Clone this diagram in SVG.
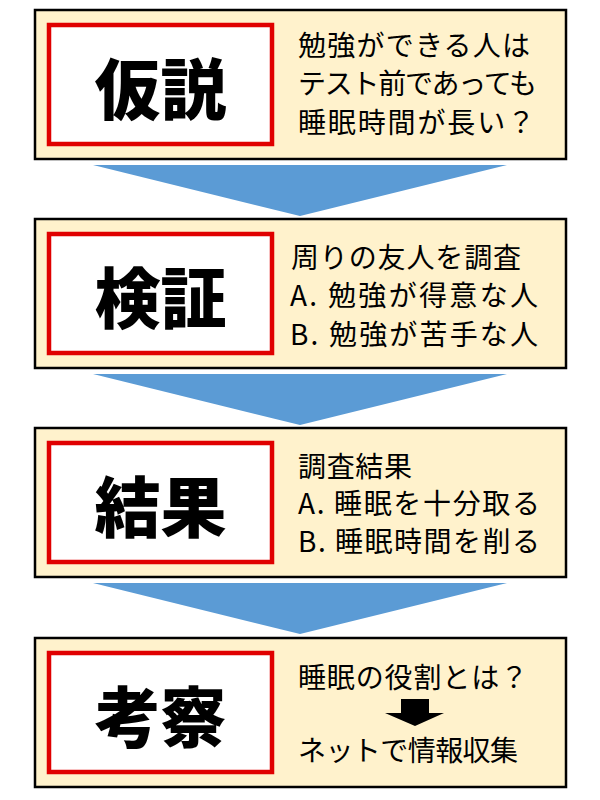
<svg xmlns="http://www.w3.org/2000/svg" width="600" height="800" viewBox="0 0 600 800">
<defs>
<style>
.box{fill:#FFF2CC;stroke:#000;stroke-width:2.5}
.red{fill:#fff;stroke:#E00000;stroke-width:4.5}
.big{font-family:"Noto Sans CJK JP","Noto Sans CJK SC",sans-serif;font-weight:900;font-size:66px;fill:#000;text-anchor:middle}
.txt{font-family:"Noto Sans CJK JP","Noto Sans CJK SC",sans-serif;font-size:28px;fill:#000}
.flow{fill:#5B9BD5}
</style>
</defs>
<rect width="600" height="800" fill="#fff"/>
<g id="connectors">
<polygon class="flow" points="93,165 507,165 300,216"/>
<polygon class="flow" points="93,374 507,374 300,425"/>
<polygon class="flow" points="93,583 507,583 300,634"/>
</g>
<g id="node-hypothesis">
<rect class="box" x="35" y="10" width="531" height="149"/>
<rect class="red" x="49" y="25" width="223" height="119"/>
<text class="big" x="160.5" y="114">仮説</text>
<text class="txt" x="298" y="55.5" textLength="232" lengthAdjust="spacing">勉強ができる人は</text>
<text class="txt" x="298" y="94" textLength="239" lengthAdjust="spacing">テスト前であっても</text>
<text class="txt" x="298" y="132.5" textLength="237" lengthAdjust="spacing">睡眠時間が長い？</text>
</g>
<g id="node-verification">
<rect class="box" x="35" y="219" width="531" height="149"/>
<rect class="red" x="49" y="234" width="223" height="119"/>
<text class="big" x="160.5" y="323">検証</text>
<text class="txt" x="291" y="268" textLength="230" lengthAdjust="spacing">周りの友人を調査</text>
<text class="txt" x="290" y="306" textLength="248" lengthAdjust="spacing">A. 勉強が得意な人</text>
<text class="txt" x="290" y="345" textLength="248" lengthAdjust="spacing">B. 勉強が苦手な人</text>
</g>
<g id="node-result">
<rect class="box" x="35" y="428" width="531" height="149"/>
<rect class="red" x="49" y="443" width="223" height="119"/>
<text class="big" x="160.5" y="532">結果</text>
<text class="txt" x="298" y="476.5" textLength="114" lengthAdjust="spacing">調査結果</text>
<text class="txt" x="298" y="513.5" textLength="242" lengthAdjust="spacing">A. 睡眠を十分取る</text>
<text class="txt" x="298" y="551.5" textLength="242" lengthAdjust="spacing">B. 睡眠時間を削る</text>
</g>
<g id="node-discussion">
<rect class="box" x="35" y="638" width="531" height="149"/>
<rect class="red" x="49" y="653" width="223" height="119"/>
<text class="big" x="160.5" y="742">考察</text>
<text class="txt" x="298" y="687.5" textLength="230" lengthAdjust="spacing">睡眠の役割とは？</text>
<polygon fill="#000" points="401,699 429,699 429,713 444,713 415,726 385,713 401,713"/>
<text class="txt" x="298" y="760.5" textLength="220" lengthAdjust="spacing">ネットで情報収集</text>
</g>
</svg>
